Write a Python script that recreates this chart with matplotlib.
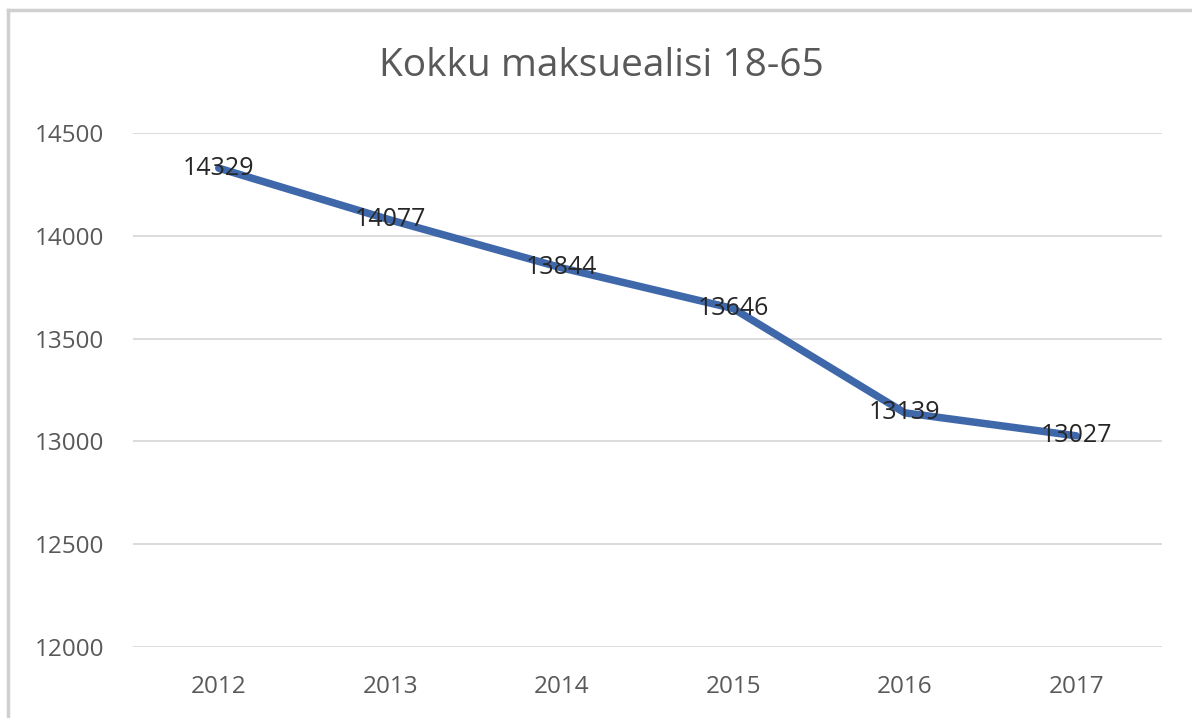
import matplotlib
matplotlib.use("Agg")
import matplotlib.pyplot as plt
from matplotlib.lines import Line2D

years = ["2012", "2013", "2014", "2015", "2016", "2017"]
values = [14329, 14077, 13844, 13646, 13139, 13027]
title = "Kokku maksuealisi 18-65"
yticks = [12000, 12500, 13000, 13500, 14000, 14500]

plt.rcParams['font.family'] = ['Open Sans', 'DejaVu Sans']

W, H = 1192, 718
fig = plt.figure(figsize=(W / 100, H / 100), dpi=100)
ax = fig.add_axes([133 / W, 1 - 647 / H, (1162 - 133) / W, (647 - 133) / H])

x = list(range(len(years)))
ax.plot(x, values, color="#3F68AA", linewidth=5.4, solid_capstyle="round", zorder=3)
for xi, v in zip(x, values):
    ax.text(xi, v, str(v), ha="center", va="center", fontsize=18, color="#262626", zorder=4)

ax.set_xlim(-0.5, len(years) - 0.5)
ax.set_ylim(yticks[0], yticks[-1])
ax.set_yticks(yticks)
ax.set_yticklabels([str(t) for t in yticks])
ax.set_xticks(x)
ax.set_xticklabels(years)
ax.tick_params(axis="both", length=0, labelsize=17.5, labelcolor="#595959")
ax.tick_params(axis="y", pad=21)
ax.tick_params(axis="x", pad=20)
ax.yaxis.grid(True, color="#d9d9d9", linewidth=1.3)
ax.set_axisbelow(True)
for s in ax.spines.values():
    s.set_visible(False)

fig.text(601 / W, 1 - 66 / H, title, ha="center", va="center", fontsize=28, color="#595959")

# frame border (left and top)
fig.add_artist(Line2D([8 / W, 8 / W], [0, 1 - 10 / H], transform=fig.transFigure, color="#d0d0d0", linewidth=2.5))
fig.add_artist(Line2D([8 / W, 1], [1 - 10 / H, 1 - 10 / H], transform=fig.transFigure, color="#d0d0d0", linewidth=2.5))

fig.savefig("out.png", dpi=100, facecolor="white")
